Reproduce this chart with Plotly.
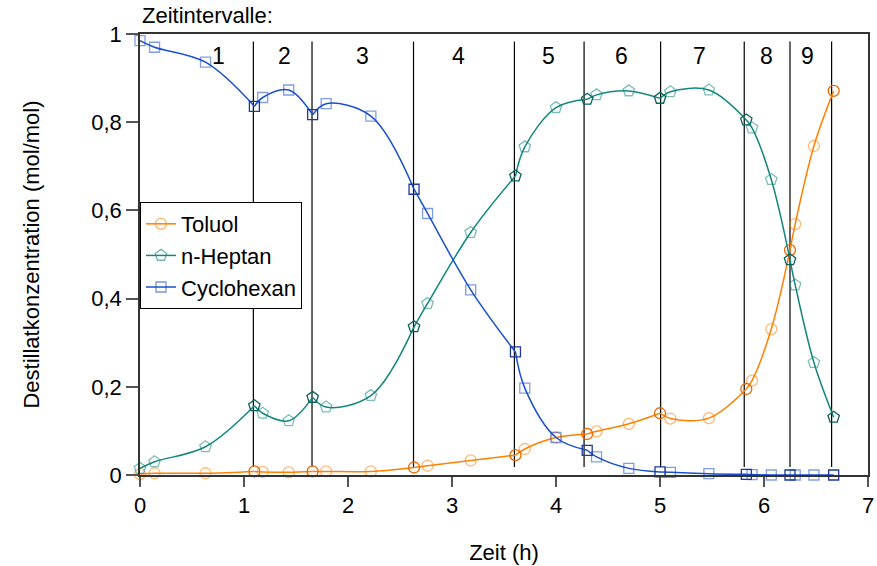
import plotly.graph_objects as go

# ---------------- data ----------------
zeit = [0.00, 0.14, 0.63, 1.10, 1.18, 1.43, 1.66, 1.79, 2.22, 2.635, 2.765, 3.18,
        3.61, 3.70, 4.00, 4.30, 4.39, 4.70, 5.00, 5.10, 5.47, 5.83, 5.885, 6.07,
        6.25, 6.30, 6.48, 6.67]
toluol = [0.002, 0.004, 0.004, 0.008, 0.007, 0.006, 0.008, 0.008, 0.008, 0.017,
          0.021, 0.033, 0.045, 0.059, 0.085, 0.093, 0.099, 0.116, 0.140, 0.128,
          0.129, 0.195, 0.214, 0.331, 0.510, 0.569, 0.746, 0.871]
heptan = [0.015, 0.030, 0.064, 0.157, 0.140, 0.123, 0.176, 0.154, 0.180, 0.336,
          0.389, 0.550, 0.678, 0.744, 0.833, 0.852, 0.862, 0.871, 0.854, 0.869,
          0.873, 0.805, 0.787, 0.670, 0.488, 0.431, 0.255, 0.131]
cyclohexan = [0.985, 0.970, 0.936, 0.836, 0.856, 0.873, 0.817, 0.842, 0.814, 0.648,
              0.593, 0.420, 0.279, 0.197, 0.085, 0.056, 0.041, 0.015, 0.007, 0.006,
              0.003, 0.0015, 0.001, 0.0, 0.0, 0.0, 0.0, 0.0]
# indices of samples taken at the end of each time interval
grenz_idx = [3, 6, 9, 12, 15, 18, 21, 24, 27]
# interval boundary lines (h)
grenzen = [1.09, 1.654, 2.63, 3.60, 4.27, 5.006, 5.81, 6.25, 6.65]
interval_labels = ["1", "2", "3", "4", "5", "6", "7", "8", "9"]
interval_label_x = [0.75, 1.385, 2.14, 3.06, 3.93, 4.63, 5.38, 6.02, 6.42]

series = [
    ("Toluol", toluol, "#ff8000", "#e86a00", "circle-open", 11),
    ("n-Heptan", heptan, "#12877f", "#0a625c", "pentagon-open", 12),
    ("Cyclohexan", cyclohexan, "#1a4fcf", "#1a3a9c", "square-open", 10),
]

FONT = "Liberation Sans, Arial, sans-serif"
FS = 22

def rgba(hexc, a):
    h = hexc.lstrip("#")
    r, g, b = int(h[0:2], 16), int(h[2:4], 16), int(h[4:6], 16)
    return f"rgba({r},{g},{b},{a})"

fig = go.Figure()

for name, vals, col, dark, sym, msize in series:
    # smooth curve, piecewise per time interval
    starts = [0] + grenz_idx[:-1]
    for s, e in zip(starts, grenz_idx):
        fig.add_trace(go.Scatter(
            x=zeit[s:e + 1], y=vals[s:e + 1], mode="lines",
            line=dict(color=col, width=1.5, shape="spline", smoothing=1.0),
            showlegend=False, hoverinfo="skip", cliponaxis=False))
    inner = [i for i in range(len(zeit)) if i not in grenz_idx]
    fig.add_trace(go.Scatter(
        x=[zeit[i] for i in inner], y=[vals[i] for i in inner], mode="markers",
        marker=dict(symbol=sym, size=msize, color=rgba(col, 0.55), line=dict(width=1.3)),
        showlegend=False, cliponaxis=False))
    fig.add_trace(go.Scatter(
        x=[zeit[i] for i in grenz_idx], y=[vals[i] for i in grenz_idx], mode="markers",
        marker=dict(symbol=sym, size=msize, color=dark, line=dict(width=1.3)),
        showlegend=False, cliponaxis=False))
    # legend entry
    fig.add_trace(go.Scatter(
        x=[None], y=[None], mode="lines+markers", name=name,
        line=dict(color=col, width=1.5),
        marker=dict(symbol=sym, size=msize, color=rgba(col, 0.6), line=dict(width=1.3))))

shapes = []
for g in grenzen:
    shapes.append(dict(type="line", xref="x", yref="y", x0=g, x1=g, y0=0.018, y1=0.983,
                       line=dict(color="black", width=1.2), layer="below"))

annotations = []
for lab, lx in zip(interval_labels, interval_label_x):
    annotations.append(dict(x=lx, y=0.95, xref="x", yref="y", text=lab, showarrow=False,
                            font=dict(size=23, color="black", family=FONT)))
annotations.append(dict(x=0, y=1.043, xref="paper", yref="paper", text="Zeitintervalle:",
                        showarrow=False, xanchor="left", yanchor="middle",
                        font=dict(size=FS, color="black", family=FONT)))

fig.update_layout(
    width=877, height=566,
    margin=dict(l=140, r=9, t=34, b=91),
    paper_bgcolor="white", plot_bgcolor="white",
    separators=",.",
    font=dict(family=FONT, size=FS, color="black"),
    shapes=shapes, annotations=annotations,
    legend=dict(x=0, y=0.619, xanchor="left", yanchor="top",
                bgcolor="white", bordercolor="black", borderwidth=1,
                font=dict(size=FS, family=FONT), tracegroupgap=0,
                itemwidth=30),
    xaxis=dict(range=[0, 7], dtick=1, showgrid=False, zeroline=False,
               showline=True, mirror=True, linecolor="#333", linewidth=1.5,
               ticks="outside", ticklen=10, tickcolor="#555", tickwidth=1.5,
               automargin=False,
               tickfont=dict(size=FS), title=dict(text="Zeit (h)", font=dict(size=FS), standoff=27)),
    yaxis=dict(range=[0, 1], dtick=0.2, showgrid=False, zeroline=False,
               showline=True, mirror=True, linecolor="#333", linewidth=1.5,
               ticks="outside", ticklen=12, tickcolor="#555", tickwidth=1.5,
               automargin=False,
               tickfont=dict(size=FS),
               title=dict(text="Destillatkonzentration (mol/mol)", font=dict(size=FS), standoff=46)),
)

fig.write_html("out.html", config={"displayModeBar": False},
               post_script="document.body.style.margin='0px';document.body.style.overflow='hidden';")
